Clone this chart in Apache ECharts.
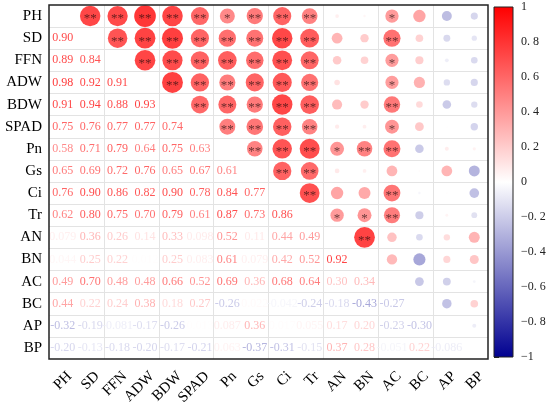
<!DOCTYPE html>
<html><head><meta charset="utf-8">
<script src="https://cdn.jsdelivr.net/npm/echarts@6/dist/echarts.min.js"></script>
<style>html,body{margin:0;padding:0;background:#fff}#c{width:550px;height:408px}</style>
</head><body><div id="c"></div>
<script>
const variables = ['PH','SD','FFN','ADW','BDW','SPAD','Pn','Gs','Ci','Tr','AN','BN','AC','BC','AP','BP'];
// lower-triangle correlations, row i holds r(i, j) for j < i
const rowPH = [];
const rowSD = [0.90];
const rowFFN = [0.89, 0.84];
const rowADW = [0.98, 0.92, 0.91];
const rowBDW = [0.91, 0.94, 0.88, 0.93];
const rowSPAD = [0.75, 0.76, 0.77, 0.77, 0.74];
const rowPn = [0.58, 0.71, 0.79, 0.64, 0.75, 0.63];
const rowGs = [0.65, 0.69, 0.72, 0.76, 0.65, 0.67, 0.61];
const rowCi = [0.76, 0.90, 0.86, 0.82, 0.90, 0.78, 0.84, 0.77];
const rowTr = [0.62, 0.80, 0.75, 0.70, 0.79, 0.61, 0.87, 0.73, 0.86];
const rowAN = [0.079, 0.36, 0.26, 0.14, 0.33, 0.098, 0.52, 0.11, 0.44, 0.49];
const rowBN = [0.044, 0.25, 0.22, 0.012, 0.25, 0.083, 0.61, 0.079, 0.42, 0.52, 0.92];
const rowAC = [0.49, 0.70, 0.48, 0.48, 0.66, 0.52, 0.69, 0.36, 0.68, 0.64, 0.30, 0.34];
const rowBC = [0.44, 0.22, 0.24, 0.38, 0.18, 0.27, -0.26, 0.022, -0.042, -0.24, -0.18, -0.43, -0.27];
const rowAP = [-0.32, -0.19, -0.081, -0.17, -0.26, 0.013, 0.087, 0.36, 0.017, 0.055, 0.17, 0.20, -0.23, -0.30];
const rowBP = [-0.20, -0.13, -0.18, -0.20, -0.17, -0.21, 0.063, -0.37, -0.31, -0.15, 0.37, 0.28, -0.051, 0.22, -0.086];
const lowerRows = [rowPH,rowSD,rowFFN,rowADW,rowBDW,rowSPAD,rowPn,rowGs,rowCi,rowTr,rowAN,rowBN,rowAC,rowBC,rowAP,rowBP];
// significance marks (0 none, 1 '*', 2 '**'), same layout as lowerRows
const sigRows = [
  [],
  [2],
  [2,2],
  [2,2,2],
  [2,2,2,2],
  [2,2,2,2,2],
  [1,2,2,2,2,2],
  [2,2,2,2,2,2,2],
  [2,2,2,2,2,2,2,2],
  [2,2,2,2,2,2,2,2,2],
  [0,0,0,0,0,0,1,0,0,1],
  [0,0,0,0,0,0,2,0,0,1,2],
  [1,2,1,1,2,1,2,0,2,2,0,0],
  [0,0,0,0,0,0,0,0,0,0,0,0,0],
  [0,0,0,0,0,0,0,0,0,0,0,0,0,0],
  [0,0,0,0,0,0,0,0,0,0,0,0,0,0,0]
];
const colorRange = [-1, 1];

function colorOf(v){
  let r,g,b;
  if (v >= 0){ r = 255; g = b = Math.round(255*(1-v)); }
  else { const t = -v; r = g = Math.round(255*(1-t)); b = Math.round(255 - (255-144)*t); }
  return 'rgb('+r+','+g+','+b+')';
}
function fmt(v){
  const a = Math.abs(v);
  const s = a < 0.1 ? a.toPrecision(2) : a.toFixed(2);
  return (v < 0 ? '-' : '') + s;
}
const textData = [], circleData = [];
for (let i = 1; i < variables.length; i++){
  for (let j = 0; j < i; j++){
    const v = lowerRows[i][j];
    const s = sigRows[i][j];
    textData.push({value:[j, i, v], label:{color: colorOf(v)}});
    circleData.push({value:[i, j, v], itemStyle:{color: colorOf(v)}, stars: s === 2 ? '**' : (s === 1 ? '*' : '')});
  }
}
const serif = 'Liberation Serif';
const chart = echarts.init(document.getElementById('c'), null, {renderer:'canvas'});
chart.setOption({
  animation:false,
  backgroundColor:'#fff',
  grid:[
    {left:49, top:5, width:439, height:354, show:true, borderColor:'#222', borderWidth:1.5, backgroundColor:'transparent', z:10},
    {left:56, top:5, width:439, height:354, show:false},
    {left:494, top:7, width:19, height:350, show:false}
  ],
  xAxis:[
    {gridIndex:0, type:'category', data:variables, axisLabel:{show:false}, axisTick:{show:false}, axisLine:{show:false},
     splitLine:{show:true, showMinLine:false, showMaxLine:false, lineStyle:{color:'#e3e3e3', width:1}}},
    {gridIndex:1, type:'category', data:variables, axisTick:{show:false}, axisLine:{show:false}, splitLine:{show:false},
     axisLabel:{rotate:45, margin:15, fontSize:15, fontFamily:serif, color:'#000', interval:0}},
    {gridIndex:2, type:'value', min:0, max:1, show:false}
  ],
  yAxis:[
    {gridIndex:0, type:'category', data:variables, inverse:true, axisTick:{show:false}, axisLine:{show:false},
     axisLabel:{fontSize:15, fontFamily:serif, color:'#000', margin:7, interval:0},
     splitLine:{show:true, showMinLine:false, showMaxLine:false, lineStyle:{color:'#e3e3e3', width:1}}},
    {gridIndex:1, type:'value', show:false},
    {gridIndex:2, type:'value', min:colorRange[0], max:colorRange[1], interval:0.2, position:'right',
     axisLine:{show:false}, splitLine:{show:false},
     axisTick:{show:true, length:5, lineStyle:{color:'#222'}},
     axisLabel:{margin:8, fontSize:12, fontFamily:serif, color:'#222',
       formatter:function(v){ const r = Math.round(v*10)/10; if (r === 1) return '1'; if (r === -1) return '\u22121'; if (r === 0) return '0';
         return (r < 0 ? '\u2212' : '') + Math.abs(r).toFixed(1).replace('.', '. '); }}}
  ],
  series:[
    {type:'scatter', xAxisIndex:0, yAxisIndex:0, data:textData, symbolSize:1, itemStyle:{color:'rgba(0,0,0,0)'}, z:3,
     label:{show:true, position:'inside', fontSize:12, fontFamily:serif, formatter:function(p){ return fmt(p.value[2]); }}},
    {type:'scatter', xAxisIndex:0, yAxisIndex:0, data:circleData, z:4,
     symbolSize:function(val){ return 22*Math.pow(Math.abs(val[2]), 0.7); },
     label:{show:true, position:'inside', fontSize:13, fontFamily:serif, color:'rgba(30,10,10,0.85)', offset:[0,3],
       formatter:function(p){ return p.data.stars; }}},
    {type:'custom', xAxisIndex:2, yAxisIndex:2, data:[[0, colorRange[0], colorRange[1]]], z:5,
     renderItem:function(params, api){
       const p1 = api.coord([0, api.value(2)]);
       const p2 = api.coord([1, api.value(1)]);
       return {type:'rect', shape:{x:p1[0], y:p1[1], width:p2[0]-p1[0], height:p2[1]-p1[1]},
         style:{fill:new echarts.graphic.LinearGradient(0,0,0,1,[
           {offset:0, color:colorOf(1)}, {offset:0.5, color:colorOf(0)}, {offset:1, color:colorOf(-1)}]),
           stroke:'#222', lineWidth:1}};
     }}
  ]
});
</script></body></html>
